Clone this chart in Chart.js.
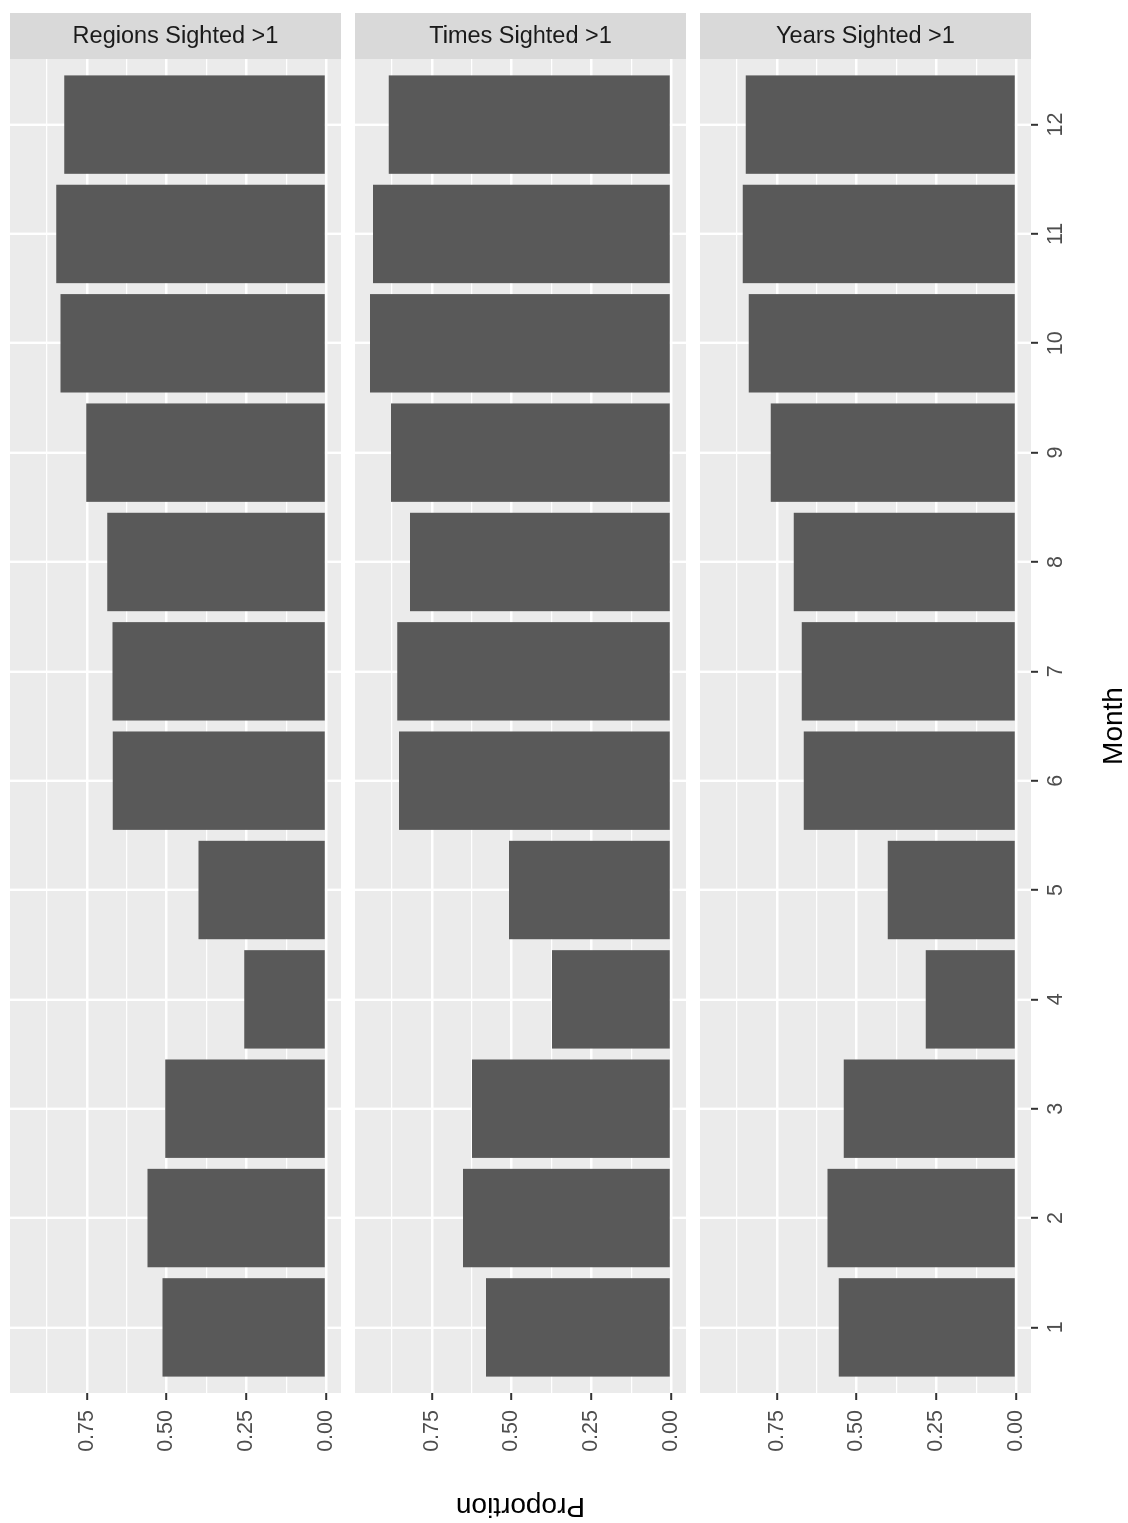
<!DOCTYPE html>
<html>
<head>
<meta charset="utf-8">
<script src="https://cdn.jsdelivr.net/npm/chart.js@4.4.1/dist/chart.umd.min.js"></script>
<style>
html, body { margin: 0; padding: 0; background: #fff; overflow: hidden; }
/* the chart is laid out as an upright facet grid, then turned a quarter turn */
#page {
    position: absolute; left: 0; top: 0;
    width: 1523px; height: 1128px;
    transform-origin: 0 0;
    transform: translate(0, 1523px) rotate(-90deg);
}
#page canvas { position: absolute; left: 0; }
</style>
</head>
<body>
<div id="page">
    <canvas id="panel1" width="1523" height="331" style="top:10px"></canvas>
    <canvas id="panel2" width="1523" height="331" style="top:355px"></canvas>
    <canvas id="panel3" width="1523" height="428" style="top:700px"></canvas>
</div>
<script>
const months = [1, 2, 3, 4, 5, 6, 7, 8, 9, 10, 11, 12];
const regionsSighted = [0.513, 0.560, 0.504, 0.256, 0.400, 0.669, 0.670, 0.686, 0.752, 0.833, 0.846, 0.821];
const timesSighted   = [0.580, 0.652, 0.624, 0.373, 0.508, 0.853, 0.859, 0.819, 0.878, 0.944, 0.935, 0.885];
const yearsSighted   = [0.556, 0.591, 0.540, 0.283, 0.402, 0.666, 0.672, 0.697, 0.769, 0.838, 0.857, 0.848];
const facetLabels = ['Regions Sighted >1', 'Times Sighted >1', 'Years Sighted >1'];
const proportionTicks  = [0, 0.125, 0.25, 0.375, 0.5, 0.625, 0.75, 0.875];
const proportionLabels = ['0.00', '', '0.25', '', '0.50', '', '0.75', ''];

Chart.defaults.font.family = "'Liberation Sans', Arial, sans-serif";

/* ---------------- PANEL BACKGROUND + STRIP ---------------- */

const panelDecor = {
    id: 'panelDecor',
    beforeDraw(chart) {
        const a = chart.chartArea, c = chart.ctx;
        c.save();
        c.fillStyle = '#EBEBEB';
        c.fillRect(a.left, a.top, a.right - a.left, a.bottom - a.top);
        c.restore();
    },
    afterDraw(chart, args, opts) {
        const a = chart.chartArea, c = chart.ctx;
        c.save();
        c.fillStyle = '#D9D9D9';
        c.fillRect(a.right, a.top, 46, a.bottom - a.top);
        c.translate(a.right + 23, (a.top + a.bottom) / 2);
        c.rotate(Math.PI / 2);
        c.fillStyle = '#1A1A1A';
        c.font = "23.5px 'Liberation Sans', Arial, sans-serif";
        c.textAlign = 'center';
        c.textBaseline = 'middle';
        c.fillText(opts.text, 0, 1);
        c.restore();
    }
};

function isMajor(i) {
    return proportionLabels[i] !== '';
}

function makePanel(id, values, label, showX, showYTitle) {
    return new Chart(document.getElementById(id), {
        type: 'bar',
        data: {
            datasets: [{
                data: months.map((m, i) => ({ x: m, y: values[i] })),
                backgroundColor: '#595959',
                borderWidth: 0,
                categoryPercentage: 1,
                barPercentage: 0.9
            }]
        },
        options: {
            responsive: false,
            animation: false,
            devicePixelRatio: 1,
            layout: { padding: { left: 0, right: 59, top: 0, bottom: 0 } },
            plugins: {
                legend: { display: false },
                tooltip: { enabled: false },
                panelDecor: { text: label }
            },
            scales: {
                x: {
                    type: 'linear',
                    min: 0.4,
                    max: 12.6,
                    offset: false,
                    afterBuildTicks: s => { s.ticks = months.map(v => ({ value: v })); },
                    afterFit: s => {
                        s.height = showX ? 97 : 0;
                        s.paddingLeft = 0;
                        s.paddingRight = 0;
                    },
                    grid: {
                        offset: false,
                        color: '#FFFFFF',
                        lineWidth: 2.4,
                        drawTicks: showX,
                        tickLength: 7,
                        tickColor: '#333333',
                        tickWidth: 2
                    },
                    border: { display: false },
                    ticks: {
                        display: showX,
                        autoSkip: false,
                        maxRotation: 0,
                        padding: 5,
                        color: '#4D4D4D',
                        font: { size: 21.5 },
                        callback: v => String(v)
                    },
                    title: {
                        display: showX,
                        text: 'Month',
                        color: '#000000',
                        font: { size: 28, lineHeight: 1 },
                        padding: 0
                    }
                },
                y: {
                    type: 'linear',
                    min: -0.0472,
                    max: 0.9912,
                    afterBuildTicks: s => { s.ticks = proportionTicks.map(v => ({ value: v })); },
                    afterFit: s => {
                        s.width = 130;
                        s.paddingTop = 0;
                        s.paddingBottom = 0;
                    },
                    grid: {
                        color: '#FFFFFF',
                        lineWidth: ctx => isMajor(ctx.index) ? 2.4 : 1.2,
                        tickLength: 7,
                        tickColor: ctx => isMajor(ctx.index) ? '#333333' : 'rgba(0,0,0,0)',
                        tickWidth: 2
                    },
                    border: { display: false },
                    ticks: {
                        padding: 10,
                        color: '#4D4D4D',
                        font: { size: 21.5 },
                        callback: (v, i) => proportionLabels[i]
                    },
                    title: {
                        display: showYTitle,
                        text: 'Proportion',
                        color: '#000000',
                        font: { size: 28 },
                        padding: 0
                    }
                }
            }
        },
        plugins: [panelDecor]
    });
}

makePanel('panel1', regionsSighted, facetLabels[0], false, false);
makePanel('panel2', timesSighted, facetLabels[1], false, true);
makePanel('panel3', yearsSighted, facetLabels[2], true, false);
</script>
</body>
</html>
